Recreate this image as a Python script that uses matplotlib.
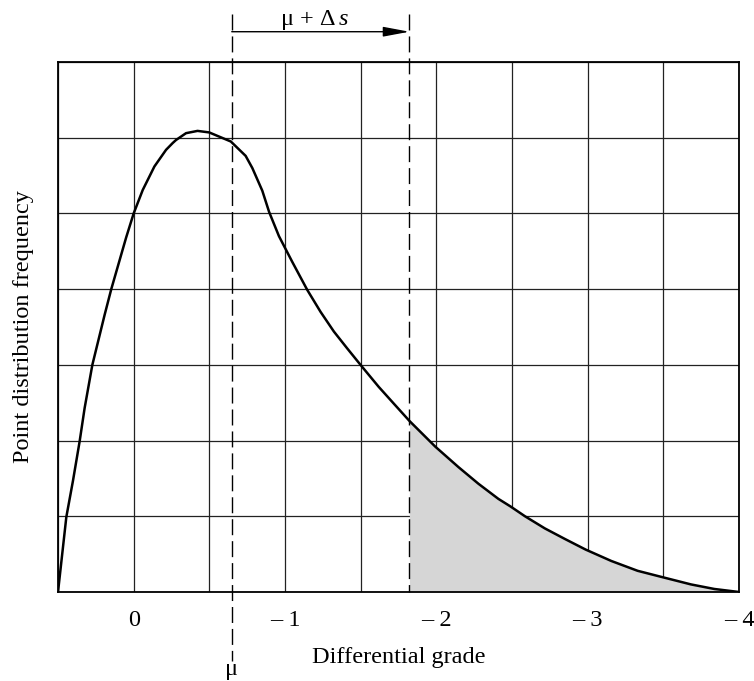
import matplotlib
matplotlib.use('Agg')
import matplotlib.pyplot as plt
import numpy as np

plt.rcParams['font.family'] = ['Liberation Serif', 'DejaVu Serif']
plt.rcParams['mathtext.fontset'] = 'custom'
plt.rcParams['mathtext.rm'] = 'Liberation Serif'
plt.rcParams['mathtext.it'] = 'Liberation Serif:italic'

# curve (x = grade, shown as 0, -1, ... -4)
grade = [-0.5, -0.445, -0.401, -0.357, -0.324, -0.273, -0.192, -0.148, -0.05, 0.0,
         0.06, 0.137, 0.214, 0.258, 0.28, 0.346, 0.422, 0.499, 0.642, 0.74,
         0.784, 0.85, 0.895, 0.96, 1.048, 1.147, 1.235, 1.323, 1.41, 1.499,
         1.619, 1.718, 1.822, 1.993, 2.146, 2.278, 2.41, 2.49, 2.586, 2.717,
         2.85, 2.987, 3.156, 3.33, 3.486, 3.683, 3.837, 4.0]
freq = [0.0, 0.99, 1.47, 1.99, 2.43, 3.0, 3.66, 4.0, 4.68, 5.0,
        5.31, 5.62, 5.84, 5.93, 5.97, 6.06, 6.09, 6.07, 5.95, 5.76,
        5.60, 5.30, 5.02, 4.70, 4.36, 3.99, 3.70, 3.44, 3.22, 3.0,
        2.71, 2.49, 2.26, 1.92, 1.65, 1.43, 1.23, 1.13, 1.0, 0.84,
        0.70, 0.56, 0.41, 0.28, 0.20, 0.10, 0.04, 0.0]

mu = 0.648
mu_ds = 1.822
tick_pos = [0, 1, 2, 3, 4]
tick_lab = ['0', '\u2013 1', '\u2013 2', '\u2013 3', '\u2013 4']

fig = plt.figure(figsize=(7.54, 6.81), dpi=100)
ax = fig.add_axes([58/754, 89/681, 681/754, 530/681])

ax.set_xlim(-0.5, 4)
ax.set_ylim(0, 7)
ax.set_xticks(tick_pos)
ax.set_xticklabels(tick_lab, fontsize=17.5)
ax.set_xticks(np.arange(-0.5, 4.01, 0.5), minor=True)
ax.set_yticks(np.arange(0, 8, 1))
ax.set_yticklabels([])
ax.tick_params(which='both', length=0, pad=13)
ax.grid(which='both', color='#222222', lw=0.9)
ax.set_axisbelow(True)
for s in ax.spines.values():
    s.set_linewidth(1.3)

g = np.array(grade)
f = np.array(freq)
sel = g >= mu_ds
ax.fill_between(g[sel], f[sel], 0, color='#d6d6d6', zorder=1.5, lw=0)
ax.plot(grade, freq, color='black', lw=1.8, zorder=3, solid_joinstyle='round')

# dashed markers reaching outside the frame
dash = (0, (11.5, 4.3))
ax.plot([mu, mu], [7.64, -0.91], color='black', lw=1.0, ls=dash, clip_on=False, zorder=4)
ax.plot([mu_ds, mu_ds], [7.64, 0], color='black', lw=1.0, ls=dash, clip_on=False, zorder=4)

ax.annotate('', xy=(mu_ds, 7.4), xytext=(mu, 7.4), annotation_clip=False,
            arrowprops=dict(arrowstyle='-|>,head_length=1.6,head_width=0.3', color='black',
                            lw=1.0, shrinkA=0, shrinkB=0))
ax.text((mu + mu_ds) / 2 - 0.04, 7.49, r'$\mathrm{\mu\,+\,\Delta}\,s$', fontsize=17.5,
        ha='center', va='baseline', clip_on=False)

ax.text(mu, -1.10, '\u03bc', fontsize=17.5, ha='center', va='baseline', clip_on=False)
ax.text(0.5, -0.123, 'Differential grade', fontsize=17.5, ha='center', va='center',
        transform=ax.transAxes)
ax.text(-0.05, 0.5, 'Point distribution frequency', fontsize=17.5, ha='center', va='center',
        rotation=90, transform=ax.transAxes)

fig.savefig('out.png', dpi=100)
